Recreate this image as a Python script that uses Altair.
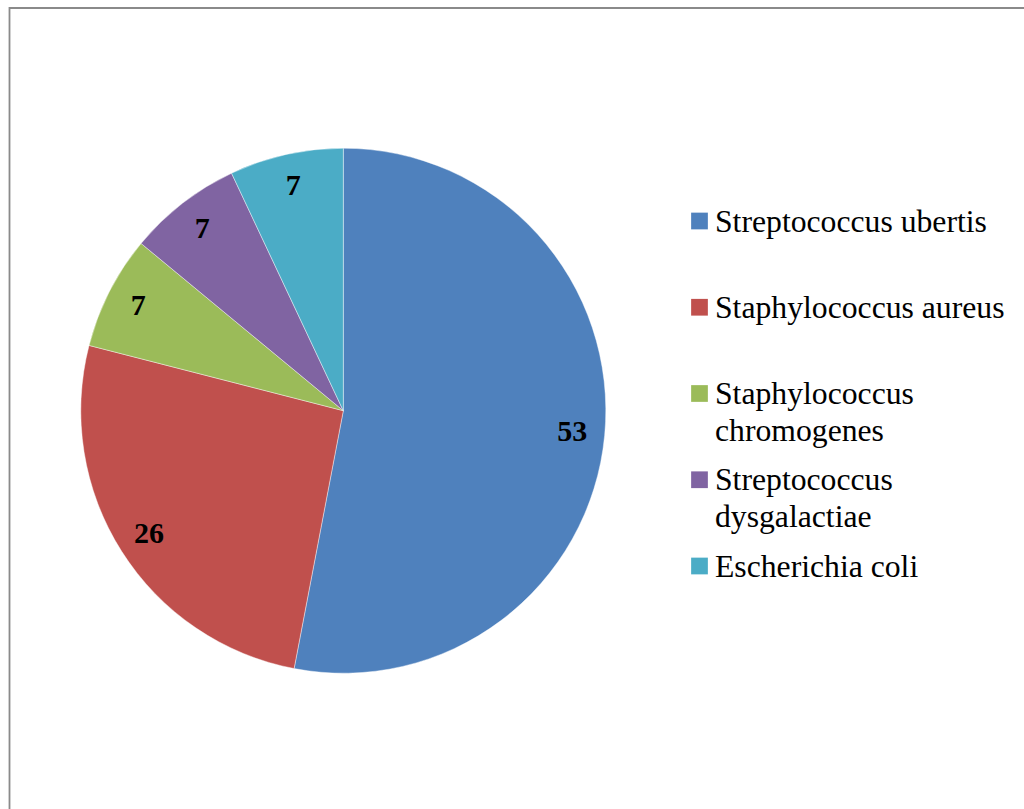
import altair as alt
import pandas as pd

# Isolate shares (%)
species = [
    "Streptococcus ubertis",
    "Staphylococcus aureus",
    "Staphylococcus chromogenes",
    "Streptococcus dysgalactiae",
    "Escherichia coli",
]
legend_labels = [
    "Streptococcus ubertis",
    "Staphylococcus aureus",
    "Staphylococcus\nchromogenes",
    "Streptococcus\ndysgalactiae",
    "Escherichia coli",
]
shares = [53, 26, 7, 7, 7]
colors = ["#4F81BD", "#C0504D", "#9BBB59", "#8064A2", "#4BACC6"]

df = pd.DataFrame({
    "species": species,
    "label": legend_labels,
    "share": shares,
    "order": list(range(len(species))),
})

SERIF = "Liberation Serif"
CX, CY, R = 343.3, 410.7, 262.5

color = alt.Color(
    "species:N",
    scale=alt.Scale(domain=species, range=colors),
    legend=None,
)

base = alt.Chart(df)

pie = base.mark_arc(radius=R, stroke="#ffffff", strokeWidth=0.6, strokeOpacity=0.7).encode(
    theta=alt.Theta("share:Q", stack=True),
    order=alt.Order("order:Q"),
    color=color,
    x=alt.value(CX),
    y=alt.value(CY),
)

values = base.mark_text(
    radius=230, font=SERIF, fontSize=30, fontWeight="bold", color="#000000",
    align="center", baseline="middle",
).encode(
    theta=alt.Theta("share:Q", stack=True),
    order=alt.Order("order:Q"),
    text=alt.Text("share:Q"),
    x=alt.value(CX),
    y=alt.value(CY),
)

row_y = alt.Y(
    "order:O",
    scale=alt.Scale(type="point", range=[221, 566], padding=0),
    axis=None,
)

legend_sq = base.mark_square(size=280, opacity=1).encode(
    y=row_y,
    x=alt.value(699.5),
    color=color,
)

legend_txt = base.mark_text(
    font=SERIF, fontSize=31.7, color="#000000", align="left",
    baseline="alphabetic", dy=10.5, lineBreak="\n", lineHeight=36.7,
).encode(
    y=row_y,
    x=alt.value(715),
    text="label:N",
)

frame = alt.Chart(pd.DataFrame({"k": [0]})).mark_rect(
    fill=None, stroke="#8a8a8a", strokeWidth=1.8
).encode(
    x=alt.value(9.5), x2=alt.value(1040),
    y=alt.value(8), y2=alt.value(830),
)

chart = alt.layer(frame, pie, values, legend_sq, legend_txt).resolve_scale(
    y="independent"
).properties(
    width=1024, height=809, padding=0, autosize=alt.AutoSizeParams(type="none"),
    background="#ffffff",
).configure_view(stroke=None)

chart.save("out.html", embed_options={"renderer": "svg", "actions": False})
